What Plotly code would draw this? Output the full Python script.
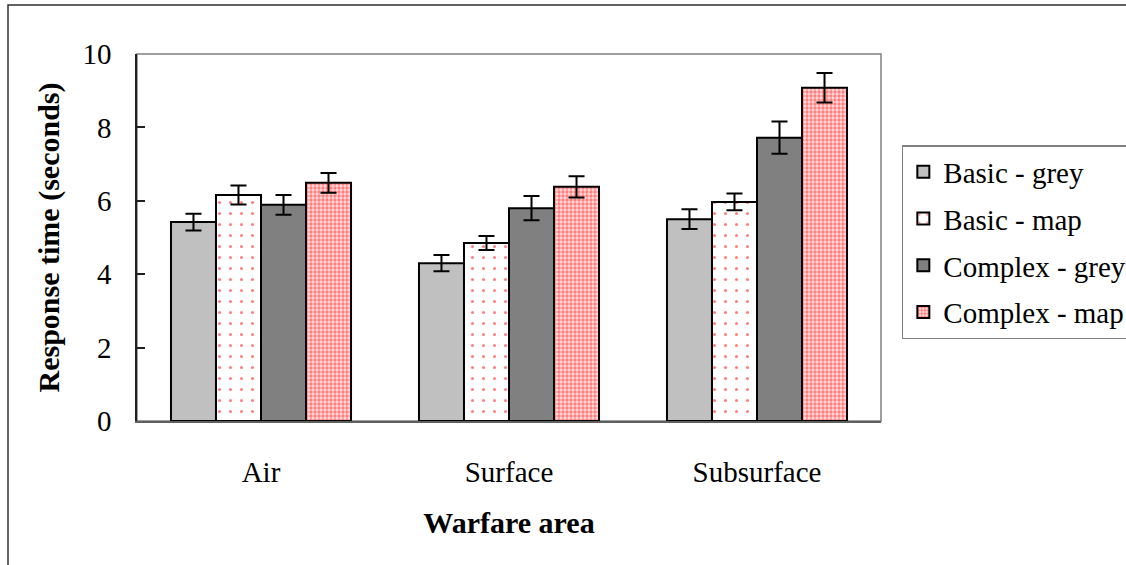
import plotly.graph_objects as go

categories = ["Air", "Surface", "Subsurface"]
series_names = ["Basic - grey", "Basic - map", "Complex - grey", "Complex - map"]
basic_grey = [5.42, 4.30, 5.50]
basic_grey_err = [0.23, 0.22, 0.27]
basic_map = [6.16, 4.85, 5.97]
basic_map_err = [0.26, 0.19, 0.23]
complex_grey = [5.89, 5.80, 7.72]
complex_grey_err = [0.27, 0.33, 0.44]
complex_map = [6.49, 6.38, 9.08]
complex_map_err = [0.27, 0.29, 0.40]

values = [basic_grey, basic_map, complex_grey, complex_map]
errors = [basic_grey_err, basic_map_err, complex_grey_err, complex_map_err]

FONT = "Liberation Serif"

styles = [
    dict(color="#C0C0C0"),
    dict(color="white", pattern=dict(shape=".", fgcolor="#FF0000", bgcolor="white",
                                      size=11, solidity=0.06, fillmode="overlay")),
    dict(color="#808080"),
    dict(color="white", pattern=dict(shape=".", fgcolor="#FF2020", bgcolor="#FFDCDC",
                                      size=4, solidity=0.55, fillmode="overlay")),
]

fig = go.Figure()
for i, (name, vals, errs) in enumerate(zip(series_names, values, errors)):
    fig.add_trace(go.Bar(
        x=categories, y=vals, name=name,
        legendgroup=name,
        marker=dict(line=dict(color="black", width=2), **styles[i]),
        error_y=dict(type="data", array=errs, visible=True, color="black",
                     thickness=2, width=8),
    ))

fig.update_layout(
    width=1126, height=565,
    margin=dict(l=137, r=245, t=54, b=144, autoexpand=False),
    paper_bgcolor="white", plot_bgcolor="white",
    barmode="group", bargap=0.274, bargroupgap=0,
    font=dict(family=FONT, size=29, color="black"),
    showlegend=True,
    legend=dict(x=1.028, y=0.752, xanchor="left", yanchor="top",
                bordercolor="#808080", borderwidth=1.5,
                font=dict(family=FONT, size=29, color="black"),
                tracegroupgap=6, itemwidth=30,
                bgcolor="white"),
    shapes=[
        dict(type="rect", xref="paper", yref="paper", x0=0, x1=1, y0=0, y1=1,
             line=dict(color="#808080", width=1.5), layer="below"),
        dict(type="rect", xref="paper", yref="paper",
             x0=(8 - 137) / 744, x1=1.5, y0=(421 - 5) / 367, y1=-0.6,
             line=dict(color="#303030", width=1.5), layer="below"),
    ],
)
fig.update_xaxes(
    showline=True, linecolor="#606060", linewidth=2,
    ticks="", tickfont=dict(family=FONT, size=29),
    ticklabelstandoff=24,
    title=dict(text="<b>Warfare area</b>", font=dict(family=FONT, size=30), standoff=25),
)
fig.update_yaxes(
    range=[0, 10], dtick=2, showgrid=False, zeroline=False,
    showline=True, linecolor="#202020", linewidth=1.5,
    ticks="inside", ticklen=8, tickcolor="#202020", tickwidth=1.5,
    tickfont=dict(family=FONT, size=29), ticklabelstandoff=18,
    title=dict(text="<b>Response time (seconds)</b>", font=dict(family=FONT, size=30), standoff=14),
)

fig.write_html("out.html", config={"displayModeBar": False},
               post_script="document.body.style.margin='0';")
